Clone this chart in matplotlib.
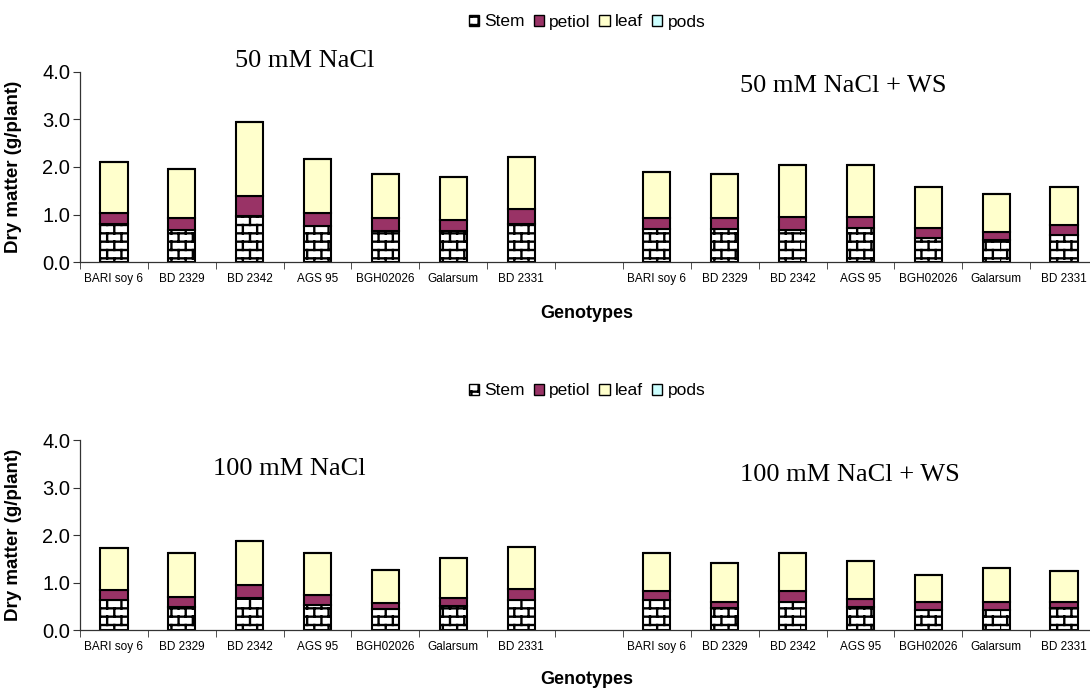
import numpy as np
import matplotlib
matplotlib.use('Agg')
import matplotlib.pyplot as plt
import matplotlib.hatch as mhatch
from matplotlib.path import Path
from matplotlib.patches import Patch

# brick hatch for the stem part (takes the place of the 'O' pattern)
class BrickHatch(mhatch.HatchPatternBase):
    rows = 12
    bricks = 7

    def __init__(self, hatch, density):
        self.on = hatch.count('O') > 0
        n = self.rows * 2 + self.rows * self.bricks * 2
        self.num_vertices = n if self.on else 0

    def set_vertices_and_codes(self, vertices, codes):
        h = 1.0 / self.rows
        w = 1.0 / self.bricks
        k = 0
        for i in range(self.rows):
            y = i * h
            vertices[k] = (0.0, y); codes[k] = Path.MOVETO
            vertices[k + 1] = (1.0, y); codes[k + 1] = Path.LINETO
            k += 2
            off = 0.5 * w if i % 2 else 0.0
            for j in range(self.bricks):
                x = j * w + off
                vertices[k] = (x, y); codes[k] = Path.MOVETO
                vertices[k + 1] = (x, y + h); codes[k + 1] = Path.LINETO
                k += 2

mhatch._hatch_types = [BrickHatch if t is mhatch.LargeCircles else t
                       for t in mhatch._hatch_types]

plt.rcParams['font.family'] = ['Liberation Sans', 'DejaVu Sans']
plt.rcParams['hatch.linewidth'] = 1.7

genotypes = ['BARI soy 6', 'BD 2329', 'BD 2342', 'AGS 95', 'BGH02026', 'Galarsum', 'BD 2331']

stem_50 = [0.80, 0.68, 0.97, 0.76, 0.66, 0.65, 0.80]
petiol_50 = [0.24, 0.24, 0.42, 0.28, 0.26, 0.24, 0.32]
leaf_50 = [1.06, 1.04, 1.56, 1.13, 0.93, 0.89, 1.09]

stem_50ws = [0.69, 0.69, 0.68, 0.73, 0.50, 0.47, 0.57]
petiol_50ws = [0.23, 0.23, 0.28, 0.23, 0.21, 0.17, 0.21]
leaf_50ws = [0.97, 0.94, 1.08, 1.08, 0.86, 0.79, 0.79]

stem_100 = [0.64, 0.50, 0.67, 0.53, 0.44, 0.51, 0.64]
petiol_100 = [0.21, 0.19, 0.28, 0.21, 0.13, 0.17, 0.23]
leaf_100 = [0.87, 0.94, 0.93, 0.89, 0.70, 0.84, 0.88]

stem_100ws = [0.63, 0.46, 0.59, 0.48, 0.42, 0.42, 0.46]
petiol_100ws = [0.20, 0.13, 0.24, 0.17, 0.17, 0.17, 0.13]
leaf_100ws = [0.80, 0.83, 0.80, 0.80, 0.58, 0.72, 0.65]

pods = [0, 0, 0, 0, 0, 0, 0]

petiol_color = '#993366'
leaf_color = '#FFFFCC'
pods_color = '#CCFFFF'

W, H = 1090, 689
fig = plt.figure(figsize=(W / 100, H / 100), dpi=100)


def stack(ax, x, stem, petiol, leaf):
    stem = np.array(stem); petiol = np.array(petiol); leaf = np.array(leaf)
    kw = dict(width=0.4, edgecolor='black', linewidth=1.5)
    ax.bar(x, stem, facecolor='white', hatch='O', **kw)
    ax.bar(x, petiol, bottom=stem, color=petiol_color, **kw)
    ax.bar(x, leaf, bottom=stem + petiol, color=leaf_color, **kw)
    ax.bar(x, pods, bottom=stem + petiol + leaf, color=pods_color, **kw)


def panel(y0, y1, left_data, right_data, titles, title_pos, leg_y, xlab_y):
    ax = fig.add_axes([80 / W, 1 - y1 / H, (1098 - 80) / W, (y1 - y0) / H])
    stack(ax, np.arange(7), *left_data)
    stack(ax, np.arange(8, 15), *right_data)
    ax.set_xlim(-0.5, 14.5)
    ax.set_ylim(0, 4)
    ax.set_yticks([0, 1, 2, 3, 4])
    ax.set_yticklabels(['%.1f' % v for v in [0, 1, 2, 3, 4]], fontsize=14.5)
    ax.set_xticks(list(range(7)) + list(range(8, 15)))
    ax.set_xticklabels(genotypes + genotypes, fontsize=8.5)
    ax.set_xticks(np.arange(-0.5, 15, 1), minor=True)
    ax.tick_params(axis='x', which='major', length=0, pad=8)
    ax.tick_params(axis='x', which='minor', length=5, direction='out', color='#333333')
    ax.tick_params(axis='y', length=5, direction='out', pad=2, color='#333333')
    for s in ['top', 'right']:
        ax.spines[s].set_visible(False)
    for s in ['left', 'bottom']:
        ax.spines[s].set_color('#333333')
        ax.spines[s].set_linewidth(0.9)
    ax.set_ylabel('Dry matter (g/plant)', fontsize=13.5, fontweight='bold', labelpad=4)
    ax.yaxis.set_label_coords(-(80 - 22) / (1098 - 80), 0.5)
    for t, (tx, ty) in zip(titles, title_pos):
        fig.text(tx / W, 1 - ty / H, t, ha='center', va='baseline', fontsize=19,
                 family=['Liberation Serif', 'DejaVu Serif'])
    fig.text(587 / W, 1 - xlab_y / H, 'Genotypes', ha='center', va='center',
             fontsize=13, fontweight='bold')
    handles = [Patch(facecolor='white', edgecolor='black', hatch='O', label='Stem'),
               Patch(facecolor=petiol_color, edgecolor='black', label='petiol'),
               Patch(facecolor=leaf_color, edgecolor='black', label='leaf'),
               Patch(facecolor=pods_color, edgecolor='black', label='pods')]
    fig.legend(handles=handles, loc='center', bbox_to_anchor=(587 / W, 1 - leg_y / H),
               ncol=4, frameon=False, fontsize=12.5, handlelength=0.6, handleheight=0.6,
               handletextpad=0.3, columnspacing=0.5, borderpad=0)
    return ax


panel(71.7, 262.3, (stem_50, petiol_50, leaf_50), (stem_50ws, petiol_50ws, leaf_50ws),
      ['50 mM NaCl', '50 mM NaCl + WS'], [(305, 66.7), (843, 91.7)], 22, 313)
panel(440, 630.3, (stem_100, petiol_100, leaf_100), (stem_100ws, petiol_100ws, leaf_100ws),
      ['100 mM NaCl', '100 mM NaCl + WS'], [(289, 475), (850, 481)], 391, 680)

fig.savefig('out.png', dpi=100)
